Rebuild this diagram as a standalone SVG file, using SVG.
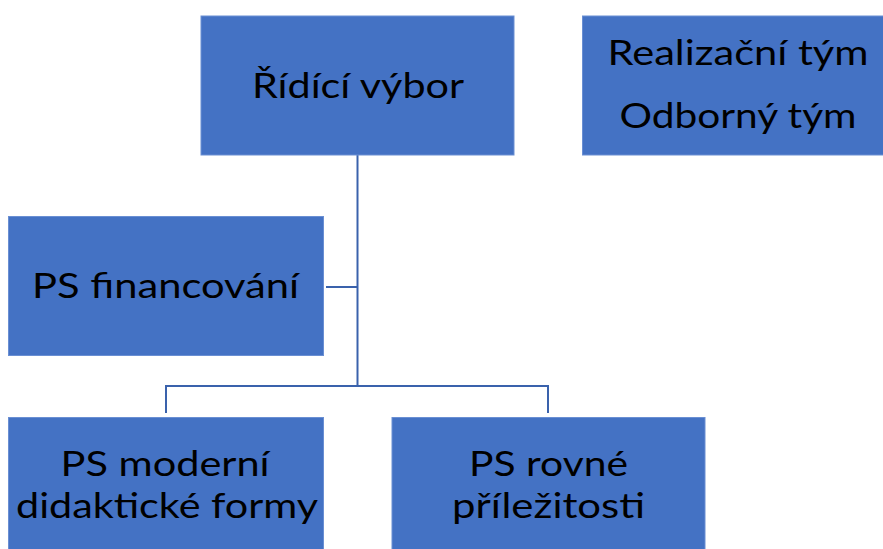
<svg xmlns="http://www.w3.org/2000/svg" width="883" height="549" viewBox="0 0 883 549">
<style>
.box{fill:#4472C4;stroke:#6A8FD3;stroke-width:1}
.t{font-family:Lato,"Liberation Sans",sans-serif;font-size:35px;fill:#000;text-anchor:middle}
.c{fill:none;stroke:#3A62AC;stroke-width:2}
</style>
<rect width="883" height="549" fill="#fff"/>
<g id="connectors">
<path class="c" d="M357.5,155 V386"/>
<path class="c" d="M326,287 H357.5"/>
<path class="c" d="M166,413 V386 H548 V413"/>
</g>
<g id="ridici-vybor">
<rect class="box" x="201" y="16" width="313" height="139"/>
<text class="t" x="358" y="98" textLength="212" lengthAdjust="spacingAndGlyphs">Řídící výbor</text>
</g>
<g id="tymy">
<rect class="box" x="582.5" y="16" width="310" height="139"/>
<text class="t" x="738" y="65" textLength="261" lengthAdjust="spacingAndGlyphs">Realizační tým</text>
<text class="t" x="738" y="128" textLength="237" lengthAdjust="spacingAndGlyphs">Odborný tým</text>
</g>
<g id="ps-financovani">
<rect class="box" x="8.5" y="216.5" width="315" height="139"/>
<text class="t" x="165.5" y="298" textLength="267" lengthAdjust="spacingAndGlyphs">PS financování</text>
</g>
<g id="ps-moderni">
<rect class="box" x="8.5" y="417.5" width="315" height="140"/>
<text class="t" x="165" y="476" textLength="209" lengthAdjust="spacingAndGlyphs">PS moderní</text>
<text class="t" x="167" y="518" textLength="302" lengthAdjust="spacingAndGlyphs">didaktické formy</text>
</g>
<g id="ps-rovne">
<rect class="box" x="392" y="417.5" width="313" height="140"/>
<text class="t" x="548.5" y="476" textLength="159" lengthAdjust="spacingAndGlyphs">PS rovné</text>
<text class="t" x="548.5" y="518" textLength="193" lengthAdjust="spacingAndGlyphs">příležitosti</text>
</g>
</svg>
